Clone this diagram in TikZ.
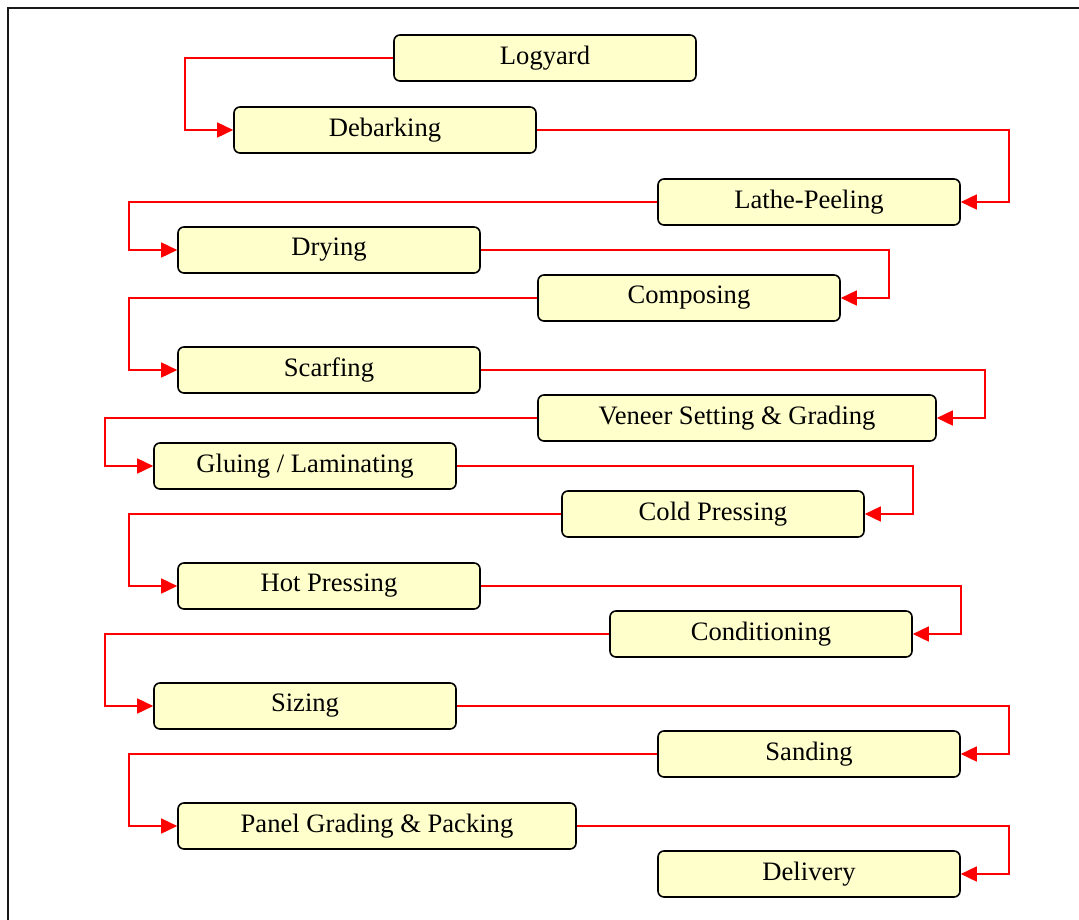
\documentclass[tikz,border=0pt]{standalone}
\usepackage{fontspec}
\setmainfont{Liberation Serif}
\usetikzlibrary{arrows.meta}
\definecolor{boxyellow}{RGB}{255,255,204}

\begin{document}
\begin{tikzpicture}[x=1pt,y=-1pt,
	main node/.style={rectangle,rounded corners=6pt,draw=black,line width=1.6pt,fill=boxyellow,minimum width=302pt,minimum height=46pt,inner sep=0pt,font=\fontsize{26.6}{30}\selectfont},
	wide node/.style={main node,minimum width=398pt},
	flow/.style={draw=red,line width=1.6pt,-{Triangle[length=16pt,width=15pt]}}]
		\useasboundingbox (0,0) rectangle (1079,920);
		\draw[line width=2pt,black!90] (7.5,930) -- (7.5,8.5) -- (1090,8.5);
		\node[main node] (logyard) at (545,58) {Logyard};
		\node[main node] (debarking) at (385,130) {Debarking};
		\node[main node] (lathe) at (809,202) {Lathe-Peeling};
		\node[main node] (drying) at (329,250) {Drying};
		\node[main node] (composing) at (689,298) {Composing};
		\node[main node] (scarfing) at (329,370) {Scarfing};
		\node[wide node] (veneer) at (737,418) {Veneer Setting \& Grading};
		\node[main node] (gluing) at (305,466) {Gluing / Laminating};
		\node[main node] (cold) at (713,514) {Cold Pressing};
		\node[main node] (hot) at (329,586) {Hot Pressing};
		\node[main node] (conditioning) at (761,634) {Conditioning};
		\node[main node] (sizing) at (305,706) {Sizing};
		\node[main node] (sanding) at (809,754) {Sanding};
		\node[wide node] (packing) at (377,826) {Panel Grading \& Packing};
		\node[main node] (delivery) at (809,874) {Delivery};
		\draw[flow] (logyard.west) -| ([xshift=-48pt]debarking.west) -- (debarking.west);
		\draw[flow] (debarking.east) -| ([xshift=48pt]lathe.east) -- (lathe.east);
		\draw[flow] (lathe.west) -| ([xshift=-48pt]drying.west) -- (drying.west);
		\draw[flow] (drying.east) -| ([xshift=48pt]composing.east) -- (composing.east);
		\draw[flow] (composing.west) -| ([xshift=-48pt]scarfing.west) -- (scarfing.west);
		\draw[flow] (scarfing.east) -| ([xshift=48pt]veneer.east) -- (veneer.east);
		\draw[flow] (veneer.west) -| ([xshift=-48pt]gluing.west) -- (gluing.west);
		\draw[flow] (gluing.east) -| ([xshift=48pt]cold.east) -- (cold.east);
		\draw[flow] (cold.west) -| ([xshift=-48pt]hot.west) -- (hot.west);
		\draw[flow] (hot.east) -| ([xshift=48pt]conditioning.east) -- (conditioning.east);
		\draw[flow] (conditioning.west) -| ([xshift=-48pt]sizing.west) -- (sizing.west);
		\draw[flow] (sizing.east) -| ([xshift=48pt]sanding.east) -- (sanding.east);
		\draw[flow] (sanding.west) -| ([xshift=-48pt]packing.west) -- (packing.west);
		\draw[flow] (packing.east) -| ([xshift=48pt]delivery.east) -- (delivery.east);
		\end{tikzpicture}
\end{document}
